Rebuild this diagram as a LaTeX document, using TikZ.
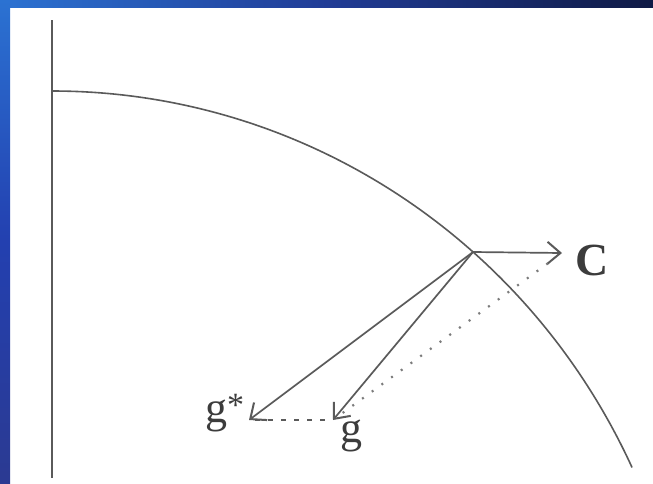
\documentclass[tikz,border=0pt]{standalone}
\usepackage{fontspec}
\setmainfont{Liberation Serif}
\usetikzlibrary{arrows.meta}
\definecolor{ink}{HTML}{5A5A5A}
\definecolor{txt}{HTML}{3C3C3C}
\definecolor{bandA}{HTML}{2B72D2}
\definecolor{bandB}{HTML}{213C96}
\definecolor{bandC}{HTML}{0F1A45}
\definecolor{bandD}{HTML}{2340B0}
\definecolor{bandE}{HTML}{2B3A92}
\tikzset{
  axisline/.style={draw=ink, line width=2pt},
  curveline/.style={draw=ink, line width=1.6pt},
  vec/.style={draw=ink, line width=1.7pt, -{Straight Barb[length=13pt,width=22pt,line width=2pt]}},
  dotline/.style={draw=ink!80, line width=2.2pt, dash pattern=on 2pt off 10pt},
  dashline/.style={draw=ink, line width=1.7pt, dash pattern=on 5pt off 8pt},
  lbl/.style={text=txt, inner sep=0pt, font=\fontsize{44}{44}\selectfont},
}
\begin{document}
\begin{tikzpicture}[x=1pt,y=-1pt]
\useasboundingbox (0,0) rectangle (653,483);
\fill[white] (0,0) rectangle (653,483);
% slide border
\shade[left color=bandA, right color=bandC, middle color=bandB] (0,0) rectangle (653,7);
\shade[top color=bandA, bottom color=bandE, middle color=bandD] (0,0) rectangle (10,483);
% axis and boundary curve
\coordinate (ax0) at (52,20);
\coordinate (ax1) at (52,478);
\draw[axisline] (ax0) -- (ax1);
\draw[curveline] (52,91) arc[start angle=-90, end angle=-25, x radius=640, y radius=652];
% points
\coordinate (P) at (473,252);
\coordinate (Ct) at (562,253);
\coordinate (gst) at (249,420);
\coordinate (gt) at (333,420);
% labels
\node[lbl, anchor=base west, font=\fontsize{46}{46}\selectfont\bfseries] (C) at (575,275) {C};
\node[lbl, anchor=base west] (gs) at (205,422) {g\raisebox{6pt}{\fontsize{34}{34}\selectfont *}};
\node[lbl, anchor=base west] (g) at (340,442) {g};
% vectors
\draw[vec] (P) -- (Ct);
\draw[vec] (P) -- (gst);
\draw[vec] (P) -- (gt);
\draw[dashline, shorten <=6pt, shorten >=4pt] (gst) -- (gt);
\draw[dotline, shorten <=12pt, shorten >=10pt] (gt) -- (Ct);
\end{tikzpicture}
\end{document}
